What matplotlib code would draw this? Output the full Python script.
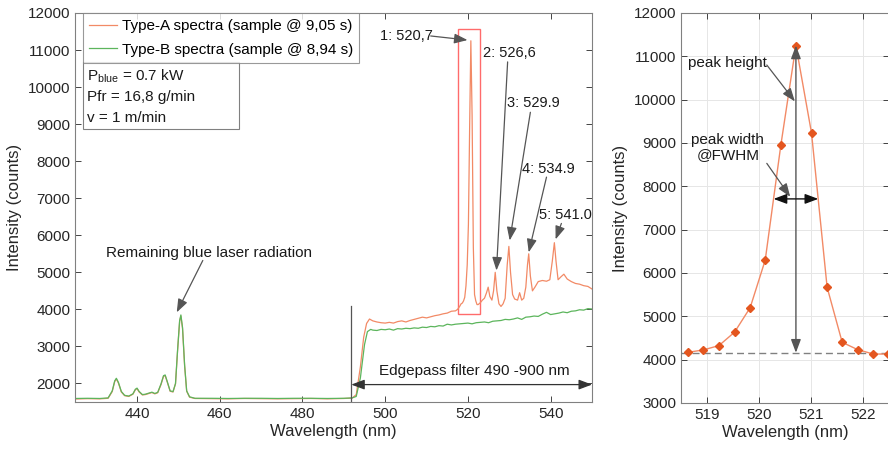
import matplotlib
matplotlib.use("Agg")
import matplotlib.pyplot as plt
from matplotlib.patches import Rectangle

plt.rcParams['font.family'] = ['Liberation Sans', 'DejaVu Sans']

# ---------------- data ----------------
wl_A = [425, 428, 431, 433, 434, 434.6, 435, 435.5, 436.2, 437, 438, 439, 439.6, 440, 440.5,
        441.3, 442, 443, 443.6, 444.3, 445, 445.8, 446.4, 446.8, 447.3, 448, 448.7, 449.3,
        449.8, 450.3, 450.6, 451, 451.5, 452, 452.7, 454, 458, 462, 466, 470, 474, 478, 482,
        486, 490, 492, 493, 494, 494.8, 495.5, 496.2, 497, 498, 499, 500, 501, 502, 503, 504,
        505, 506, 507, 508, 509, 510, 511, 512, 513, 514, 515, 516, 517, 517.5, 518, 518.35,
        518.64, 518.93, 519.23, 519.53, 519.83, 520.12, 520.42, 520.71, 521.01, 521.31, 521.60,
        521.90, 522.20, 522.48, 523, 523.5, 524, 524.5, 524.9, 525.3, 525.8, 526.2, 526.6, 527,
        527.5, 528, 528.5, 529, 529.5, 529.9, 530.3, 530.8, 531.3, 532, 532.5, 533, 533.5, 534,
        534.4, 534.7, 535.1, 535.6, 536.2, 537, 538, 539, 539.8, 540.4, 540.9, 541.3, 541.8,
        542.5, 543.2, 544, 545, 546, 547, 548, 549, 550]
int_A = [1580, 1590, 1585, 1600, 1780, 2050, 2120, 2010, 1770, 1670, 1650, 1710, 1830, 1860, 1770,
         1690, 1700, 1735, 1755, 1720, 1750, 1970, 2190, 2210, 2040, 1790, 1770, 1990,
         2880, 3680, 3820, 3480, 2480, 1790, 1630, 1595, 1590, 1585, 1595, 1590, 1585, 1590, 1595,
         1585, 1595, 1605, 1700, 2450, 3250, 3620, 3740, 3690, 3660, 3640, 3630, 3650, 3630, 3670, 3690,
         3660, 3700, 3730, 3760, 3790, 3770, 3800, 3830, 3850, 3880, 3900, 3950, 3960, 4000, 4080, 4150,
         4170, 4225, 4325, 4635, 5200, 6300, 8950, 11250, 9230, 5670, 4400,
         4230, 4130, 4130, 4180, 4250, 4300, 4450, 4600, 4350, 4250, 4500, 5000, 4500,
         4150, 4080, 4150, 4300, 5200, 5700, 5000, 4400, 4280, 4250, 4450, 4250, 4300, 4600,
         5200, 5500, 4900, 4500, 4600, 4750, 4780, 4760, 4800, 5300, 5800, 5300, 4800,
         4880, 4950, 4820, 4750, 4700, 4680, 4640, 4620, 4550]

wl_B = [425, 428, 431, 433, 434, 434.6, 435, 435.5, 436.2, 437, 438, 439, 439.6, 440, 440.5,
        441.3, 442, 443, 443.6, 444.3, 445, 445.8, 446.4, 446.8, 447.3, 448, 448.7, 449.3,
        449.8, 450.3, 450.6, 451, 451.5, 452, 452.7, 454, 458, 462, 466, 470, 474, 478, 482,
        486, 490, 492, 493, 494, 495, 495.7, 496.5, 497, 498, 499, 500, 501, 502, 503, 504, 505,
        506, 507, 508, 509, 510, 511, 512, 513, 514, 515, 516, 517, 518, 519, 520, 521, 522, 523,
        524, 525, 526, 527, 528, 529, 530, 531, 532, 533, 534, 535, 536, 537, 538, 539, 540,
        541, 542, 543, 544, 545, 546, 547, 548, 549, 550]
int_B = [1595, 1600, 1595, 1610, 1800, 2070, 2140, 2030, 1785, 1680, 1660, 1720, 1845, 1875, 1785,
         1700, 1710, 1745, 1765, 1730, 1760, 1990, 2210, 2230, 2055, 1800, 1780, 2000,
         2900, 3700, 3850, 3510, 2500, 1800, 1640, 1600, 1600, 1595, 1600, 1600, 1595, 1600, 1600,
         1595, 1600, 1610, 1650, 2150, 3050, 3400, 3460, 3440, 3430, 3460, 3450, 3470, 3440, 3480, 3470, 3490,
         3480, 3500, 3490, 3520, 3510, 3540, 3530, 3560, 3550, 3600, 3580, 3600, 3610, 3620, 3630, 3610, 3640, 3650,
         3660, 3640, 3680, 3690, 3700, 3730, 3720, 3740, 3770, 3730, 3790, 3800, 3820, 3810, 3870, 3920, 3860,
         3880, 3900, 3930, 3910, 3950, 3960, 3990, 3980, 4020, 4010]

zoom_wl = [518.64, 518.93, 519.23, 519.53, 519.83, 520.12, 520.42, 520.71, 521.01, 521.31,
           521.60, 521.90, 522.20, 522.48]
zoom_int = [4170, 4225, 4325, 4635, 5200, 6300, 8950, 11250, 9230, 5670, 4400, 4230, 4130, 4130]

legend_labels = ["Type-A spectra (sample @ 9,05 s)", "Type-B spectra (sample @ 8,94 s)"]
peak_labels = ["1: 520,7", "2: 526,6", "3: 529.9", "4: 534.9", "5: 541.0"]
info_lines = ["$\\mathregular{P_{blue}}$ = 0.7 kW", "Pfr = 16,8 g/min", "v = 1 m/min"]
baseline = 4160

# ---------------- styles ----------------
c_A = "#F28A66"
c_B = "#5CB55C"
c_marker = "#E4561F"
arrow_col = "#555555"
FS = 11

fig = plt.figure(figsize=(8.88, 4.5), dpi=100)
ax1 = fig.add_axes([75/888, 48/450, (592-75)/888, (402-13)/450])
ax2 = fig.add_axes([681/888, 47/450, 208/888, (403-13)/450])

for ax in (ax1, ax2):
    ax.tick_params(direction='in', length=4, labelsize=FS, colors='#262626', top=True, right=True,
                   labelcolor='#262626', width=0.6)
    for s in ax.spines.values():
        s.set_color('#808080')
        s.set_linewidth(0.8)

# ---- left panel ----
lA, = ax1.plot(wl_A, int_A, color=c_A, lw=0.9)
lB, = ax1.plot(wl_B, int_B, color=c_B, lw=0.9)
ax1.set_xlim(425, 550)
ax1.set_ylim(1500, 12000)
ax1.set_xticks([440, 460, 480, 500, 520, 540])
ax1.set_yticks(range(2000, 12001, 1000))
ax1.set_xlabel("Wavelength (nm)", fontsize=12, color='#262626', labelpad=2)
ax1.set_ylabel("Intensity (counts)", fontsize=12, color='#262626', labelpad=4)

leg = ax1.legend([lA, lB], legend_labels, loc='upper left', bbox_to_anchor=(8/517, 1.0),
                 fontsize=FS, frameon=True, fancybox=False, handlelength=1.85,
                 borderaxespad=0, borderpad=0.4, labelspacing=0.62, handletextpad=0.3)
leg.get_frame().set_edgecolor('#808080')
leg.get_frame().set_linewidth(0.8)

# info box (fixed size, in axes fraction)
ax1.add_patch(Rectangle((8/517, 1 - 116/389), (239-83)/517, 67/389, transform=ax1.transAxes,
                        fill=True, fc='white', ec='#808080', lw=0.8, zorder=5))
for i, line in enumerate(info_lines):
    ax1.text(12/517, 1 - (63 + 21*i)/389, line, transform=ax1.transAxes,
             fontsize=FS, va='center', ha='left', zorder=6, color='#1a1a1a')

ax1.add_patch(Rectangle((517.5, 3870), 5.3, 7700, fill=False, ec='#FF6B6B', lw=1.0))

ap = dict(arrowstyle='-|>,head_length=0.8,head_width=0.3', color=arrow_col, lw=0.9,
          shrinkA=0, shrinkB=0)
peak_text_xy = [(505.2, 11380), (530.1, 10910), (535.9, 9570), (539.4, 7780), (543.5, 6540)]
peak_start = [(511.0, 11380), (529.6, 10680), (535.1, 9320), (539.0, 7570), (542.6, 6320)]
peak_tip = [(519.9, 11270), (526.9, 5050), (530.1, 5860), (534.7, 5540), (541.2, 5890)]
for lab, t, s, e in zip(peak_labels, peak_text_xy, peak_start, peak_tip):
    ax1.text(t[0], t[1], lab, fontsize=10.5, ha='center', va='center', color='#1a1a1a')
    ax1.annotate("", xy=e, xytext=s, arrowprops=dict(ap, facecolor='black', edgecolor=arrow_col))

ax1.text(457.4, 5510, "Remaining blue laser radiation", fontsize=FS, ha='center', va='center',
         color='#1a1a1a')
ax1.annotate("", xy=(449.6, 3920), xytext=(455.9, 5320),
             arrowprops=dict(ap, facecolor='black', edgecolor=arrow_col))

ax1.plot([491.8, 491.8], [1500, 4100], color='#555555', lw=0.9)
ax1.annotate("", xy=(550, 1970), xytext=(491.8, 1970),
             arrowprops=dict(arrowstyle='<|-|>,head_length=0.8,head_width=0.3', color='#333333',
                             lw=0.9, shrinkA=0, shrinkB=0, facecolor='black'))
ax1.text(521.6, 2330, "Edgepass filter 490 -900 nm", fontsize=FS, ha='center', va='center',
         color='#1a1a1a')

# ---- right panel ----
ax2.plot(zoom_wl, zoom_int, color=c_A, lw=1.0, marker='D', ms=4.5, mfc=c_marker, mec=c_marker,
         zorder=3)
ax2.set_xlim(518.5, 522.5)
ax2.set_ylim(3000, 12000)
ax2.set_xticks([519, 520, 521, 522])
ax2.set_yticks(range(3000, 12001, 1000))
ax2.grid(True, color='#e6e6e6', lw=0.7)
ax2.set_axisbelow(True)
ax2.set_xlabel("Wavelength (nm)", fontsize=12, color='#262626', labelpad=2)
ax2.set_ylabel("Intensity (counts)", fontsize=12, color='#262626', labelpad=4)
ax2.axhline(baseline, color='#808080', lw=1.0, ls=(0, (5, 3)), zorder=2)

ax2.annotate("", xy=(520.71, 11250), xytext=(520.71, baseline),
             arrowprops=dict(arrowstyle='<|-|>,head_length=0.8,head_width=0.3', color='#555555',
                             lw=1.0, shrinkA=0, shrinkB=0, facecolor='black'), zorder=4)
ax2.annotate("", xy=(520.28, 7710), xytext=(521.14, 7710),
             arrowprops=dict(arrowstyle='<|-|>,head_length=0.8,head_width=0.3', color='#111111',
                             lw=1.0, shrinkA=0, shrinkB=0, facecolor='black'), zorder=4)
ax2.text(519.4, 10850, "peak height", fontsize=FS, ha='center', va='center', color='#1a1a1a')
ax2.annotate("", xy=(520.69, 9960), xytext=(520.15, 10800),
             arrowprops=dict(ap, facecolor='black', edgecolor=arrow_col))
ax2.text(519.4, 8900, "peak width\n@FWHM", fontsize=FS, ha='center', va='center', color='#1a1a1a',
         linespacing=1.15)
ax2.annotate("", xy=(520.6, 7760), xytext=(520.15, 8530),
             arrowprops=dict(ap, facecolor='black', edgecolor=arrow_col))

fig.savefig("out.png", dpi=100, facecolor='white')
